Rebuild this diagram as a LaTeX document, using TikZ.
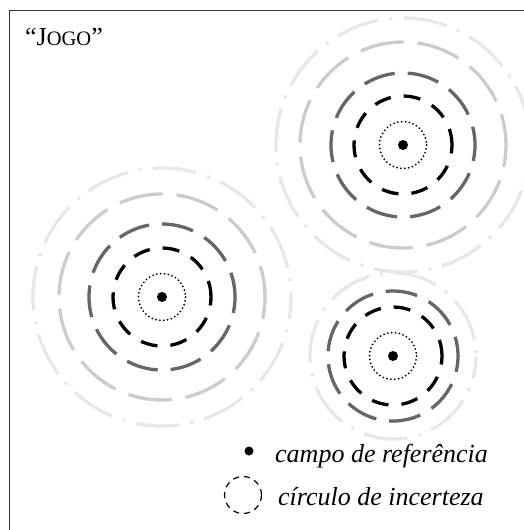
\documentclass[tikz,border=0pt]{standalone}
\usepackage{fontspec}
\setmainfont{Liberation Serif}
\definecolor{ringdark}{gray}{0.4}
\definecolor{ringlight}{gray}{0.8}
\definecolor{ringpale}{gray}{0.91}
\usetikzlibrary{positioning}

\begin{document}
\begin{tikzpicture}[x=1pt,y=-1pt,
  dotring/.style={black, line width=2pt, line cap=round, dash pattern=on 0pt off 3.9pt},
  ringone/.style={black, line width=3.3pt, dash pattern=on 17pt off 13pt, dash phase=8.5pt},
  ringtwo/.style={ringdark, line width=3.3pt, dash pattern=on 32pt off 13pt, dash phase=16pt},
  ringthree/.style={ringlight, line width=3.3pt, dash pattern=on 44pt off 14pt, dash phase=22pt},
  ringfour/.style={ringpale, line width=3.3pt, dash pattern=on 44pt off 11pt on 3pt off 11pt, dash phase=22pt},
  legendtext/.style={font=\fontsize{26}{30}\selectfont\itshape, anchor=base west, inner sep=0pt}]
  \useasboundingbox (0,0) rectangle (523,530);

  % Frame
  \draw[line width=1pt, black!80] (9,540) |- (540,10);

  % Title
  \node[anchor=base west, inner sep=0pt, font=\fontsize{26}{30}\selectfont] (title) at (25,45)
    {``J{\fontsize{20.5}{24}\selectfont OGO}''};

  % Reference fields
  \coordinate (fieldA) at (403,145);
  \coordinate (fieldB) at (162,297);
  \coordinate (fieldC) at (393,356);

  % Outer rings
  \draw[ringfour] (fieldA) circle (127);
  \draw[ringfour] (fieldB) circle (129);
  \draw[ringfour] (fieldC) circle (83);
  \draw[ringthree] (fieldA) circle (103);
  \draw[ringthree] (fieldB) circle (103);

  % Inner rings
  \draw[ringtwo] (fieldA) circle (72);
  \draw[ringtwo] (fieldB) circle (73);
  \draw[ringtwo] (fieldC) circle (65);
  \foreach \f in {fieldA,fieldB,fieldC} {
    \draw[ringone] (\f) circle (49);
    \draw[dotring] (\f) circle (23.5);
    \fill (\f) circle (5);
  }

  % Legend
  \fill (249,451) coordinate (keydot) circle (4.5);
  \node[legendtext] (keydottext) at (275,462) {campo de referência};
  \draw[black, line width=1.2pt, dash pattern=on 6pt off 5pt] (243,495) coordinate (keyring) circle (18.5);
  \node[legendtext] (keyringtext) at (278,505) {círculo de incerteza};
\end{tikzpicture}
\end{document}
